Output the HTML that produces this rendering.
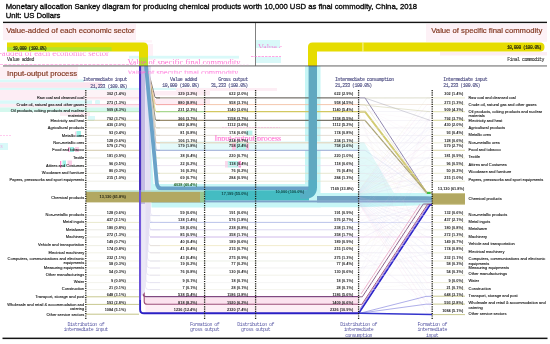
<!DOCTYPE html>
<html><head><meta charset="utf-8"><style>
html,body{margin:0;padding:0;background:#fff;}
#c{position:relative;width:550px;height:344px;overflow:hidden;background:#fff;}
svg{position:absolute;left:0;top:0;will-change:transform;}
</style></head><body><div id="c">
<svg width="550" height="344" viewBox="0 0 550 344">
<defs><clipPath id="g1"><rect x="0" y="52.4" width="140" height="3.7"/></clipPath><clipPath id="g2"><rect x="120" y="58.5" width="130" height="5.6"/></clipPath><clipPath id="g3"><rect x="120" y="70.6" width="118" height="3.2"/></clipPath><clipPath id="g4"><rect x="256" y="42.5" width="26" height="5.5"/></clipPath><clipPath id="g5"><rect x="256" y="55.6" width="26" height="1.8"/></clipPath><clipPath id="g6"><rect x="212" y="135.2" width="72" height="5.6"/></clipPath></defs>
<path d="M146,66 L153.5,184 L305,184 L305,66 L320.5,66 L320.5,207.6 L151.5,207.6 Z" fill="#c6f6f6"/>
<path d="M150.5,66 L158.6,182 Q159,184 161,184 L304.5,184 L304.5,66 Z" fill="#ffffff"/>
<path d="M320,193 L358.5,193 L432,193.1 L432,205 L358.5,207.2 L320,207.2 Z" fill="#c6f6f6"/>
<path d="M358.5,142 L364,142 L394,193 L358.5,193 Z" fill="#e2f9f9"/>
<rect x="3.00" y="23.80" width="133.00" height="16.40" fill="#fdf0f5"/>
<rect x="60.00" y="40.20" width="92.00" height="2.30" fill="#fef4f8"/>
<rect x="148.00" y="44.00" width="5.00" height="16.00" fill="#fef0f6"/>
<rect x="426.00" y="23.80" width="121.00" height="18.00" fill="#fdf1f6"/>
<rect x="440.00" y="52.00" width="107.00" height="3.50" fill="#fdedf4"/>
<rect x="0.00" y="66.50" width="78.00" height="12.50" fill="#fdf0f5"/>
<rect x="0.00" y="79.50" width="84.00" height="2.80" fill="#d9f9f9"/>
<rect x="0.00" y="82.30" width="102.00" height="5.60" fill="#fce4ee"/>
<rect x="0.00" y="87.90" width="210.00" height="2.00" fill="#d9f9f9"/>
<rect x="0.00" y="90.00" width="86.00" height="10.40" fill="#fdedf4"/>
<rect x="86.00" y="90.00" width="54.00" height="10.40" fill="#fdf3f7"/>
<rect x="0.00" y="100.40" width="92.00" height="3.50" fill="#d9f9f9"/>
<rect x="95.00" y="100.40" width="5.00" height="3.50" fill="#d9f9f9"/>
<rect x="0.00" y="103.90" width="140.00" height="3.50" fill="#fdedf4"/>
<rect x="0.00" y="107.40" width="140.00" height="4.60" fill="#d4f8ee"/>
<rect x="60.00" y="112.00" width="30.00" height="4.00" fill="#fdedf4"/>
<rect x="88.00" y="116.00" width="7.00" height="4.00" fill="#d9f9f9"/>
<rect x="150.00" y="91.00" width="60.00" height="4.50" fill="#fdedf4"/>
<rect x="150.00" y="99.00" width="60.00" height="5.00" fill="#fdedf4"/>
<rect x="176.00" y="88.00" width="101.00" height="2.90" fill="#fdedf4"/>
<rect x="129.00" y="55.80" width="110.00" height="2.80" fill="#d9f9f9"/>
<rect x="256.00" y="40.00" width="24.00" height="8.00" fill="#d9f9f9"/>
<rect x="256.00" y="57.00" width="25.00" height="6.00" fill="#d9f9f9"/>
<rect x="96.00" y="100.00" width="3.00" height="4.00" fill="#d9f9f9"/>
<rect x="88.00" y="116.00" width="6.00" height="5.00" fill="#d9f9f9"/>
<rect x="68.30" y="147.00" width="1.20" height="5.00" fill="#ff8ad0"/>
<rect x="70.00" y="147.00" width="4.00" height="5.00" fill="#9ff2e8"/>
<rect x="75.00" y="147.00" width="4.00" height="5.00" fill="#fbd0e8"/>
<rect x="60.00" y="161.00" width="1.20" height="7.00" fill="#ff8ad0"/>
<rect x="62.50" y="160.50" width="3.50" height="6.50" fill="#9ff2e8"/>
<rect x="67.50" y="160.50" width="4.50" height="5.50" fill="#fbd0e8"/>
<rect x="75.30" y="131.50" width="1.00" height="5.00" fill="#fbc0e0"/>
<rect x="76.50" y="131.00" width="4.50" height="6.00" fill="#9ff2e8"/>
<rect x="245.80" y="130.60" width="6.60" height="4.90" fill="#b8f4ec"/>
<rect x="160.00" y="141.30" width="198.00" height="9.00" fill="#e4fafa"/>
<rect x="232.00" y="143.00" width="4.00" height="7.00" fill="#fbc8e4"/>
<rect x="236.00" y="143.00" width="10.00" height="7.00" fill="#b8f4ec"/>
<rect x="246.00" y="143.00" width="3.00" height="7.00" fill="#fbc8e4"/>
<rect x="225.00" y="161.00" width="3.00" height="6.50" fill="#fbd8ec"/>
<rect x="227.80" y="161.00" width="10.70" height="6.50" fill="#b8f4ec"/>
<rect x="238.50" y="161.00" width="2.50" height="6.50" fill="#ff9ad8"/>
<line x1="86.00" y1="97.90" x2="139.00" y2="97.90" stroke="#f4c4cc" stroke-width="0.7"/>
<line x1="156.00" y1="97.90" x2="204.60" y2="97.90" stroke="#8a8070" stroke-width="1.0"/>
<line x1="204.60" y1="97.90" x2="358.50" y2="97.90" stroke="#555048" stroke-width="1.0"/>
<line x1="432.00" y1="97.90" x2="465.00" y2="97.90" stroke="#e0e0b4" stroke-width="0.7"/>
<line x1="86.00" y1="104.60" x2="139.00" y2="104.60" stroke="#f4b4c4" stroke-width="0.7"/>
<line x1="156.00" y1="104.60" x2="204.60" y2="104.60" stroke="#f08c8c" stroke-width="0.8"/>
<line x1="204.60" y1="104.60" x2="358.50" y2="104.60" stroke="#f0b898" stroke-width="0.8"/>
<line x1="432.00" y1="104.60" x2="465.00" y2="104.60" stroke="#e4e4c8" stroke-width="0.7"/>
<line x1="86.00" y1="111.70" x2="139.00" y2="111.70" stroke="#b0dca0" stroke-width="0.7"/>
<line x1="156.00" y1="111.70" x2="204.60" y2="111.70" stroke="#a8d890" stroke-width="1.3"/>
<line x1="204.60" y1="111.70" x2="358.50" y2="111.70" stroke="#d2c860" stroke-width="1.3"/>
<line x1="432.00" y1="111.70" x2="465.00" y2="111.70" stroke="#d0d08c" stroke-width="0.7"/>
<line x1="86.00" y1="120.30" x2="139.00" y2="120.30" stroke="#c8c090" stroke-width="0.7"/>
<line x1="156.00" y1="120.30" x2="204.60" y2="120.30" stroke="#807048" stroke-width="1.0"/>
<line x1="204.60" y1="120.30" x2="358.50" y2="120.30" stroke="#5a5648" stroke-width="1.0"/>
<line x1="432.00" y1="120.30" x2="465.00" y2="120.30" stroke="#c4c470" stroke-width="0.7"/>
<line x1="86.00" y1="127.90" x2="139.00" y2="127.90" stroke="#dcd8c0" stroke-width="0.7"/>
<line x1="156.00" y1="127.90" x2="358.50" y2="127.90" stroke="#cfc8b0" stroke-width="0.8"/>
<line x1="432.00" y1="127.90" x2="465.00" y2="127.90" stroke="#e2e2c4" stroke-width="0.7"/>
<line x1="86.00" y1="135.40" x2="139.00" y2="135.40" stroke="#e0dccc" stroke-width="0.7"/>
<line x1="156.00" y1="135.40" x2="358.50" y2="135.40" stroke="#d8d0c4" stroke-width="0.7"/>
<line x1="432.00" y1="135.40" x2="465.00" y2="135.40" stroke="#e2e2c4" stroke-width="0.7"/>
<line x1="86.00" y1="142.80" x2="139.00" y2="142.80" stroke="#f0ece4" stroke-width="0.7"/>
<line x1="156.00" y1="142.80" x2="358.50" y2="142.80" stroke="#e4c8a4" stroke-width="0.8"/>
<line x1="432.00" y1="142.80" x2="465.00" y2="142.80" stroke="#e2e2c4" stroke-width="0.7"/>
<line x1="86.00" y1="150.30" x2="139.00" y2="150.30" stroke="#c0b488" stroke-width="0.7"/>
<line x1="156.00" y1="150.30" x2="358.50" y2="150.30" stroke="#90a0d0" stroke-width="0.9"/>
<line x1="432.00" y1="150.30" x2="465.00" y2="150.30" stroke="#c8c484" stroke-width="0.7"/>
<line x1="86.00" y1="158.00" x2="139.00" y2="158.00" stroke="#e4e4d4" stroke-width="0.7"/>
<line x1="156.00" y1="158.00" x2="358.50" y2="158.00" stroke="#d8e4c8" stroke-width="0.7"/>
<line x1="432.00" y1="158.00" x2="465.00" y2="158.00" stroke="#e2e2c4" stroke-width="0.7"/>
<line x1="86.00" y1="165.60" x2="139.00" y2="165.60" stroke="#e8e4e8" stroke-width="0.7"/>
<line x1="156.00" y1="165.60" x2="358.50" y2="165.60" stroke="#e8dcec" stroke-width="0.7"/>
<line x1="432.00" y1="165.60" x2="465.00" y2="165.60" stroke="#e2e2c4" stroke-width="0.7"/>
<line x1="86.00" y1="173.30" x2="139.00" y2="173.30" stroke="#e8e8d8" stroke-width="0.7"/>
<line x1="156.00" y1="173.30" x2="358.50" y2="173.30" stroke="#dcdcbc" stroke-width="0.7"/>
<line x1="432.00" y1="173.30" x2="465.00" y2="173.30" stroke="#e2e2c4" stroke-width="0.7"/>
<line x1="86.00" y1="181.20" x2="139.00" y2="181.20" stroke="#e8e8dc" stroke-width="0.7"/>
<line x1="156.00" y1="181.20" x2="358.50" y2="181.20" stroke="#e2e2cc" stroke-width="0.7"/>
<line x1="432.00" y1="181.20" x2="465.00" y2="181.20" stroke="#e2e2c4" stroke-width="0.7"/>
<line x1="86.00" y1="215.60" x2="139.00" y2="215.60" stroke="#e4e4dc" stroke-width="0.7"/>
<line x1="150.00" y1="215.60" x2="358.50" y2="215.60" stroke="#d8dce8" stroke-width="0.7"/>
<line x1="432.00" y1="215.60" x2="465.00" y2="215.60" stroke="#e2e2c4" stroke-width="0.7"/>
<line x1="86.00" y1="222.40" x2="139.00" y2="222.40" stroke="#e0e0b8" stroke-width="0.7"/>
<line x1="150.00" y1="222.40" x2="358.50" y2="222.40" stroke="#a8b4e4" stroke-width="0.8"/>
<line x1="432.00" y1="222.40" x2="465.00" y2="222.40" stroke="#e2e2c4" stroke-width="0.7"/>
<line x1="86.00" y1="229.80" x2="139.00" y2="229.80" stroke="#e4e4d8" stroke-width="0.7"/>
<line x1="150.00" y1="229.80" x2="358.50" y2="229.80" stroke="#d0c8ec" stroke-width="0.7"/>
<line x1="432.00" y1="229.80" x2="465.00" y2="229.80" stroke="#e2e2c4" stroke-width="0.7"/>
<line x1="86.00" y1="237.00" x2="139.00" y2="237.00" stroke="#e4e4d8" stroke-width="0.7"/>
<line x1="150.00" y1="237.00" x2="358.50" y2="237.00" stroke="#c4a8e4" stroke-width="0.8"/>
<line x1="432.00" y1="237.00" x2="465.00" y2="237.00" stroke="#e2e2c4" stroke-width="0.7"/>
<line x1="86.00" y1="245.60" x2="139.00" y2="245.60" stroke="#e8e8d8" stroke-width="0.7"/>
<line x1="150.00" y1="245.60" x2="358.50" y2="245.60" stroke="#ece4b8" stroke-width="0.7"/>
<line x1="432.00" y1="245.60" x2="465.00" y2="245.60" stroke="#e2e2c4" stroke-width="0.7"/>
<line x1="86.00" y1="252.80" x2="139.00" y2="252.80" stroke="#ececdc" stroke-width="0.7"/>
<line x1="150.00" y1="252.80" x2="358.50" y2="252.80" stroke="#ecead4" stroke-width="0.7"/>
<line x1="432.00" y1="252.80" x2="465.00" y2="252.80" stroke="#e2e2c4" stroke-width="0.7"/>
<line x1="86.00" y1="261.00" x2="139.00" y2="261.00" stroke="#ececdc" stroke-width="0.7"/>
<line x1="150.00" y1="261.00" x2="358.50" y2="261.00" stroke="#e4eadc" stroke-width="0.7"/>
<line x1="432.00" y1="261.00" x2="465.00" y2="261.00" stroke="#e2e2c4" stroke-width="0.7"/>
<line x1="86.00" y1="268.00" x2="139.00" y2="268.00" stroke="#ececdc" stroke-width="0.7"/>
<line x1="150.00" y1="268.00" x2="358.50" y2="268.00" stroke="#eaeaea" stroke-width="0.6"/>
<line x1="432.00" y1="268.00" x2="465.00" y2="268.00" stroke="#e2e2c4" stroke-width="0.7"/>
<line x1="86.00" y1="275.20" x2="139.00" y2="275.20" stroke="#ececdc" stroke-width="0.7"/>
<line x1="150.00" y1="275.20" x2="358.50" y2="275.20" stroke="#eaeadc" stroke-width="0.6"/>
<line x1="432.00" y1="275.20" x2="465.00" y2="275.20" stroke="#e2e2c4" stroke-width="0.7"/>
<line x1="86.00" y1="282.60" x2="139.00" y2="282.60" stroke="#eeeee4" stroke-width="0.7"/>
<line x1="150.00" y1="282.60" x2="358.50" y2="282.60" stroke="#eeeeee" stroke-width="0.6"/>
<line x1="432.00" y1="282.60" x2="465.00" y2="282.60" stroke="#e2e2c4" stroke-width="0.7"/>
<line x1="86.00" y1="289.60" x2="139.00" y2="289.60" stroke="#eeeee4" stroke-width="0.7"/>
<line x1="150.00" y1="289.60" x2="358.50" y2="289.60" stroke="#eeeee2" stroke-width="0.6"/>
<line x1="432.00" y1="289.60" x2="465.00" y2="289.60" stroke="#e2e2c4" stroke-width="0.7"/>
<line x1="86.00" y1="296.80" x2="139.00" y2="296.80" stroke="#c8c890" stroke-width="1.0"/>
<line x1="432.00" y1="296.20" x2="465.00" y2="296.20" stroke="#c8c890" stroke-width="1.0"/>
<line x1="86.00" y1="304.40" x2="139.00" y2="304.40" stroke="#c8c890" stroke-width="1.0"/>
<line x1="432.00" y1="304.10" x2="465.00" y2="304.10" stroke="#c8c890" stroke-width="1.0"/>
<line x1="86.00" y1="314.20" x2="139.00" y2="314.20" stroke="#c4c488" stroke-width="1.0"/>
<line x1="432.00" y1="314.60" x2="465.00" y2="314.60" stroke="#c8c890" stroke-width="1.0"/>
<path d="M147.0,66 L155.0,97.3 Q156.0,97.9 157.5,97.9 L160,97.9" stroke="#555048" stroke-width="0.8" fill="none" opacity="0.9"/>
<path d="M147.1,66 L155.2,104.0 Q156.2,104.6 157.7,104.6 L160,104.6" stroke="#f0b898" stroke-width="0.8" fill="none" opacity="0.9"/>
<path d="M147.2,66 L155.3,111.1 Q156.3,111.7 157.8,111.7 L160,111.7" stroke="#d2c860" stroke-width="0.8" fill="none" opacity="0.9"/>
<path d="M147.4,66 L155.4,119.7 Q156.4,120.3 157.9,120.3 L160,120.3" stroke="#5a5648" stroke-width="0.8" fill="none" opacity="0.9"/>
<path d="M147.5,66 L155.6,127.3 Q156.6,127.9 158.1,127.9 L160,127.9" stroke="#cfc8b0" stroke-width="0.8" fill="none" opacity="0.9"/>
<path d="M147.6,66 L155.8,134.8 Q156.8,135.4 158.2,135.4 L160,135.4" stroke="#d8d0c4" stroke-width="0.7" fill="none" opacity="0.9"/>
<path d="M147.7,66 L155.9,142.2 Q156.9,142.8 158.4,142.8 L160,142.8" stroke="#e4c8a4" stroke-width="0.8" fill="none" opacity="0.9"/>
<path d="M147.8,66 L156.1,149.7 Q157.1,150.3 158.6,150.3 L160,150.3" stroke="#90a0d0" stroke-width="0.8" fill="none" opacity="0.9"/>
<path d="M148.0,66 L156.2,157.4 Q157.2,158.0 158.7,158.0 L160,158.0" stroke="#d8e4c8" stroke-width="0.7" fill="none" opacity="0.9"/>
<path d="M148.1,66 L156.3,165.0 Q157.3,165.6 158.8,165.6 L160,165.6" stroke="#e8dcec" stroke-width="0.7" fill="none" opacity="0.9"/>
<path d="M148.2,66 L156.5,172.7 Q157.5,173.3 159.0,173.3 L160,173.3" stroke="#dcdcbc" stroke-width="0.7" fill="none" opacity="0.9"/>
<path d="M148.3,66 L156.7,180.6 Q157.7,181.2 159.2,181.2 L160,181.2" stroke="#e2e2cc" stroke-width="0.7" fill="none" opacity="0.9"/>
<path d="M150.5,66 L150.5,212.6 Q150.5,215.6 153.5,215.6 L160,215.6" stroke="#d8d2ee" stroke-width="0.5" fill="none"/>
<path d="M150.0,66 L150.0,219.4 Q150.0,222.4 153.0,222.4 L160,222.4" stroke="#d8d2ee" stroke-width="0.5" fill="none"/>
<path d="M149.5,66 L149.5,226.8 Q149.5,229.8 152.5,229.8 L160,229.8" stroke="#d8d2ee" stroke-width="0.5" fill="none"/>
<path d="M149.0,66 L149.0,234.0 Q149.0,237.0 152.0,237.0 L160,237.0" stroke="#d8d2ee" stroke-width="0.5" fill="none"/>
<path d="M148.5,66 L148.5,242.6 Q148.5,245.6 151.5,245.6 L160,245.6" stroke="#d8d2ee" stroke-width="0.5" fill="none"/>
<path d="M148.0,66 L148.0,249.8 Q148.0,252.8 151.0,252.8 L160,252.8" stroke="#d8d2ee" stroke-width="0.5" fill="none"/>
<path d="M147.5,66 L147.5,258.0 Q147.5,261.0 150.5,261.0 L160,261.0" stroke="#d8d2ee" stroke-width="0.5" fill="none"/>
<path d="M147.0,66 L147.0,265.0 Q147.0,268.0 150.0,268.0 L160,268.0" stroke="#d8d2ee" stroke-width="0.5" fill="none"/>
<path d="M146.5,66 L146.5,272.2 Q146.5,275.2 149.5,275.2 L160,275.2" stroke="#d8d2ee" stroke-width="0.5" fill="none"/>
<path d="M146.0,66 L146.0,279.6 Q146.0,282.6 149.0,282.6 L160,282.6" stroke="#d8d2ee" stroke-width="0.5" fill="none"/>
<path d="M145.5,66 L145.5,286.6 Q145.5,289.6 148.5,289.6 L160,289.6" stroke="#d8d2ee" stroke-width="0.5" fill="none"/>
<rect x="144.50" y="297.40" width="214.00" height="6.60" fill="#fbe2ee"/>
<rect x="145.50" y="305.00" width="213.00" height="7.40" fill="#fdeef5"/>
<path d="M143,66 L143,293.8 Q143,296.6 146,296.6 L358.5,296.6" stroke="#804880" stroke-width="1.1" fill="none"/>
<path d="M144.2,66 L144.2,301.4 Q144.2,304.3 147.2,304.3 L358.5,304.3" stroke="#9a4a76" stroke-width="1.1" fill="none"/>
<rect x="141.00" y="66.00" width="4.00" height="138.00" fill="#c4bce4"/>
<rect x="141.00" y="204.00" width="4.00" height="84.00" fill="#ebe8f6"/>
<path d="M141,288 L145,288 L145,292 L141,296 Z" fill="#ebe8f6"/>
<path d="M146,66 L156.8,183 Q157.3,188.4 161.5,188.4 L309,188.4" stroke="#6aa2c8" stroke-width="3.8" fill="none"/>
<rect x="204.60" y="190.30" width="104.40" height="10.20" fill="#44bcc2"/>
<rect x="151.50" y="200.50" width="207.00" height="1.90" fill="#7ea2c8"/>
<rect x="308.6" y="66" width="8.4" height="122" fill="#60a8c0"/>
<path d="M312.8,180 L312.8,187 Q312.8,194.6 305.2,194.6 L300,194.6" stroke="#56aec4" stroke-width="8.4" fill="none"/>
<rect x="317.00" y="196.00" width="41.50" height="4.60" fill="#6fa2c2"/>
<rect x="317.00" y="200.50" width="41.50" height="1.90" fill="#7ea2c8"/>
<path d="M358.5,196 L426,196.2 L432,196.6 L432,200.6 L426,200.6 L358.5,200.6 Z" fill="#70a4c4"/>
<path d="M358.5,200.6 L432,200.6 L432,202.6 L358.5,202.4 Z" fill="#8ea8d0"/>
<rect x="86.00" y="191.60" width="114.60" height="10.80" fill="#b2a862"/>
<rect x="200.20" y="191.60" width="4.40" height="10.80" fill="#98c890"/>
<rect x="86.00" y="190.40" width="118.60" height="1.20" fill="#a8d8c8"/>
<rect x="432.00" y="193.10" width="33.00" height="11.50" fill="#b2a862"/>
<rect x="432.00" y="193.10" width="33.00" height="0.70" fill="#d6d09c"/>
<rect x="432.00" y="203.90" width="33.00" height="0.70" fill="#d6d09c"/>
<path d="M140.1,66 L140.1,309.4 Q140.1,313.2 143.9,313.2 L358.5,313.2" stroke="#2b1fc4" stroke-width="1.9" fill="none"/>
<line x1="140.10" y1="66.00" x2="140.10" y2="190.00" stroke="#4a30c0" stroke-width="1.9"/>
<line x1="140.10" y1="190.00" x2="140.10" y2="300.00" stroke="#7458dc" stroke-width="1.8"/>
<path d="M358.5,97.9 L365,97.9 L427,193.0 L432,193.0" stroke="#7a70a0" stroke-width="0.9" fill="none" opacity="0.95"/>
<path d="M358.5,191.0 L427,97.9 L432,97.9" stroke="#d8d0b8" stroke-width="0.35" fill="none" opacity="0.4"/>
<path d="M358.5,104.6 L365,104.6 L427,193.1 L432,193.1" stroke="#dcd4a0" stroke-width="0.6" fill="none" opacity="0.6"/>
<path d="M358.5,191.5 L427,104.6 L432,104.6" stroke="#e0b0e0" stroke-width="0.35" fill="none" opacity="0.4"/>
<path d="M358.5,111.7 L365,111.7 L427,193.1 L432,193.1" stroke="#d0c868" stroke-width="2.0" fill="none" opacity="0.95"/>
<path d="M358.5,191.9 L427,111.7 L432,111.7" stroke="#c0c0e8" stroke-width="0.35" fill="none" opacity="0.4"/>
<path d="M358.5,120.3 L365,120.3 L427,193.2 L432,193.2" stroke="#a8a070" stroke-width="1.3" fill="none" opacity="0.95"/>
<path d="M358.5,192.4 L427,120.3 L432,120.3" stroke="#c8c8ec" stroke-width="0.35" fill="none" opacity="0.4"/>
<path d="M358.5,127.9 L365,127.9 L427,193.2 L432,193.2" stroke="#cfc8b0" stroke-width="0.45" fill="none" opacity="0.35"/>
<path d="M358.5,192.8 L427,127.9 L432,127.9" stroke="#b8b0e0" stroke-width="0.35" fill="none" opacity="0.4"/>
<path d="M358.5,135.4 L365,135.4 L427,193.2 L432,193.2" stroke="#d8d0c4" stroke-width="0.45" fill="none" opacity="0.35"/>
<path d="M358.5,193.3 L427,135.4 L432,135.4" stroke="#b8b0e0" stroke-width="0.35" fill="none" opacity="0.4"/>
<path d="M358.5,142.8 L365,142.8 L427,193.3 L432,193.3" stroke="#e4c8a4" stroke-width="0.45" fill="none" opacity="0.35"/>
<path d="M358.5,193.8 L427,142.8 L432,142.8" stroke="#e8a8d8" stroke-width="0.35" fill="none" opacity="0.4"/>
<path d="M358.5,150.3 L365,150.3 L427,193.3 L432,193.3" stroke="#90a0d0" stroke-width="0.45" fill="none" opacity="0.4"/>
<path d="M358.5,194.2 L427,150.3 L432,150.3" stroke="#f0b8d8" stroke-width="0.35" fill="none" opacity="0.4"/>
<path d="M358.5,158.0 L365,158.0 L427,193.4 L432,193.4" stroke="#d8e4c8" stroke-width="0.45" fill="none" opacity="0.35"/>
<path d="M358.5,194.7 L427,158.0 L432,158.0" stroke="#b8b0e0" stroke-width="0.35" fill="none" opacity="0.4"/>
<path d="M358.5,165.6 L365,165.6 L427,193.4 L432,193.4" stroke="#e8dcec" stroke-width="0.45" fill="none" opacity="0.35"/>
<path d="M358.5,195.2 L427,165.6 L432,165.6" stroke="#d8d0b8" stroke-width="0.35" fill="none" opacity="0.4"/>
<path d="M358.5,173.3 L365,173.3 L427,193.5 L432,193.5" stroke="#dcdcbc" stroke-width="0.45" fill="none" opacity="0.35"/>
<path d="M358.5,195.6 L427,173.3 L432,173.3" stroke="#f0b8d8" stroke-width="0.35" fill="none" opacity="0.4"/>
<path d="M358.5,181.2 L365,181.2 L427,193.6 L432,193.6" stroke="#e2e2cc" stroke-width="0.45" fill="none" opacity="0.35"/>
<path d="M358.5,196.1 L427,181.2 L432,181.2" stroke="#b8b0e0" stroke-width="0.35" fill="none" opacity="0.4"/>
<path d="M358.5,215.6 L364,215.6 L427,204.3 L432,204.3" stroke="#d8dce8" stroke-width="0.45" fill="none" opacity="0.3"/>
<path d="M358.5,197.0 L427,215.6 L432,215.6" stroke="#f0b8d8" stroke-width="0.35" fill="none" opacity="0.4"/>
<path d="M358.5,222.4 L364,222.4 L427,204.4 L432,204.4" stroke="#a8b4e4" stroke-width="0.45" fill="none" opacity="0.3"/>
<path d="M358.5,197.5 L427,222.4 L432,222.4" stroke="#e0b0e0" stroke-width="0.35" fill="none" opacity="0.4"/>
<path d="M358.5,229.8 L364,229.8 L427,204.4 L432,204.4" stroke="#d0c8ec" stroke-width="0.45" fill="none" opacity="0.3"/>
<path d="M358.5,197.9 L427,229.8 L432,229.8" stroke="#b8b0e0" stroke-width="0.35" fill="none" opacity="0.4"/>
<path d="M358.5,237.0 L364,237.0 L427,204.5 L432,204.5" stroke="#c4a8e4" stroke-width="0.45" fill="none" opacity="0.3"/>
<path d="M358.5,198.4 L427,237.0 L432,237.0" stroke="#b8b0e0" stroke-width="0.35" fill="none" opacity="0.4"/>
<path d="M358.5,245.6 L364,245.6 L427,204.5 L432,204.5" stroke="#ece4b8" stroke-width="0.45" fill="none" opacity="0.3"/>
<path d="M358.5,198.8 L427,245.6 L432,245.6" stroke="#c0c0e8" stroke-width="0.35" fill="none" opacity="0.4"/>
<path d="M358.5,252.8 L364,252.8 L427,204.6 L432,204.6" stroke="#ecead4" stroke-width="0.45" fill="none" opacity="0.3"/>
<path d="M358.5,199.3 L427,252.8 L432,252.8" stroke="#c0c0e8" stroke-width="0.35" fill="none" opacity="0.4"/>
<path d="M358.5,261.0 L364,261.0 L427,204.6 L432,204.6" stroke="#e4eadc" stroke-width="0.45" fill="none" opacity="0.3"/>
<path d="M358.5,199.8 L427,261.0 L432,261.0" stroke="#b8b0e0" stroke-width="0.35" fill="none" opacity="0.4"/>
<path d="M358.5,268.0 L364,268.0 L427,204.7 L432,204.7" stroke="#eaeaea" stroke-width="0.45" fill="none" opacity="0.3"/>
<path d="M358.5,200.2 L427,268.0 L432,268.0" stroke="#e0b0e0" stroke-width="0.35" fill="none" opacity="0.4"/>
<path d="M358.5,275.2 L364,275.2 L427,204.7 L432,204.7" stroke="#eaeadc" stroke-width="0.45" fill="none" opacity="0.3"/>
<path d="M358.5,200.7 L427,275.2 L432,275.2" stroke="#b8b0e0" stroke-width="0.35" fill="none" opacity="0.4"/>
<path d="M358.5,282.6 L364,282.6 L427,204.8 L432,204.8" stroke="#eeeeee" stroke-width="0.45" fill="none" opacity="0.3"/>
<path d="M358.5,201.2 L427,282.6 L432,282.6" stroke="#f0b8d8" stroke-width="0.35" fill="none" opacity="0.4"/>
<path d="M358.5,289.6 L364,289.6 L427,204.8 L432,204.8" stroke="#eeeee2" stroke-width="0.45" fill="none" opacity="0.3"/>
<path d="M358.5,201.6 L427,289.6 L432,289.6" stroke="#c0c0e8" stroke-width="0.35" fill="none" opacity="0.4"/>
<path d="M358.5,296.8 L362.3,296.8 L423.3,204.0 L432,204.0" stroke="#8e6488" stroke-width="1.0" fill="none"/>
<path d="M358.5,202.1 L427,296.8 L432,296.8" stroke="#b8b0e0" stroke-width="0.35" fill="none" opacity="0.4"/>
<path d="M358.5,304.4 L361.8,304.4 L427.5,204.4 L432,204.4" stroke="#a45a7e" stroke-width="1.0" fill="none"/>
<path d="M358.5,202.5 L427,304.4 L432,304.4" stroke="#e8a8d8" stroke-width="0.35" fill="none" opacity="0.4"/>
<path d="M358.5,313.2 L358.8,313.2 L429.9,205.0 L432,205.0" stroke="#2a22c8" stroke-width="1.6" fill="none"/>
<path d="M358.5,203.0 L427,313.2 L432,313.2" stroke="#f0b8d8" stroke-width="0.35" fill="none" opacity="0.4"/>
<path d="M358.5,120.3 L432,150.3" stroke="#c8c8ec" stroke-width="0.3" fill="none" opacity="0.22"/>
<path d="M358.5,268.0 L432,252.8" stroke="#b8b0e0" stroke-width="0.3" fill="none" opacity="0.22"/>
<path d="M358.5,252.8 L432,252.8" stroke="#c0c0e8" stroke-width="0.3" fill="none" opacity="0.22"/>
<path d="M358.5,104.6 L432,150.3" stroke="#b8b0e0" stroke-width="0.3" fill="none" opacity="0.22"/>
<path d="M358.5,245.6 L432,127.9" stroke="#d8d0b8" stroke-width="0.3" fill="none" opacity="0.22"/>
<path d="M358.5,215.6 L432,127.9" stroke="#f0b8d8" stroke-width="0.3" fill="none" opacity="0.22"/>
<path d="M358.5,120.3 L432,252.8" stroke="#d8d0b8" stroke-width="0.3" fill="none" opacity="0.22"/>
<path d="M358.5,245.6 L432,313.2" stroke="#c8c8ec" stroke-width="0.3" fill="none" opacity="0.22"/>
<path d="M358.5,135.4 L432,120.3" stroke="#f0b8d8" stroke-width="0.3" fill="none" opacity="0.22"/>
<path d="M358.5,252.8 L432,268.0" stroke="#e0b0e0" stroke-width="0.3" fill="none" opacity="0.22"/>
<path d="M358.5,181.2 L432,120.3" stroke="#f0b8d8" stroke-width="0.3" fill="none" opacity="0.22"/>
<path d="M358.5,282.6 L432,111.7" stroke="#f0b8d8" stroke-width="0.3" fill="none" opacity="0.22"/>
<path d="M358.5,104.6 L432,261.0" stroke="#e0b0e0" stroke-width="0.3" fill="none" opacity="0.22"/>
<path d="M358.5,229.8 L432,275.2" stroke="#f0b8d8" stroke-width="0.3" fill="none" opacity="0.22"/>
<path d="M358.5,215.6 L432,296.8" stroke="#d8d0b8" stroke-width="0.3" fill="none" opacity="0.22"/>
<path d="M358.5,222.4 L432,252.8" stroke="#c0c0e8" stroke-width="0.3" fill="none" opacity="0.22"/>
<path d="M358.5,181.2 L432,165.6" stroke="#e0b0e0" stroke-width="0.3" fill="none" opacity="0.22"/>
<path d="M358.5,304.4 L432,135.4" stroke="#c8c8ec" stroke-width="0.3" fill="none" opacity="0.22"/>
<path d="M358.5,296.8 L432,150.3" stroke="#b8b0e0" stroke-width="0.3" fill="none" opacity="0.22"/>
<path d="M358.5,252.8 L432,165.6" stroke="#f0b8d8" stroke-width="0.3" fill="none" opacity="0.22"/>
<path d="M358.5,229.8 L432,173.3" stroke="#c8c8ec" stroke-width="0.3" fill="none" opacity="0.22"/>
<path d="M358.5,222.4 L432,165.6" stroke="#f0b8d8" stroke-width="0.3" fill="none" opacity="0.22"/>
<path d="M358.5,111.7 L432,120.3" stroke="#f0b8d8" stroke-width="0.3" fill="none" opacity="0.22"/>
<path d="M358.5,215.6 L432,135.4" stroke="#e8a8d8" stroke-width="0.3" fill="none" opacity="0.22"/>
<path d="M358.5,173.3 L432,127.9" stroke="#c0c0e8" stroke-width="0.3" fill="none" opacity="0.22"/>
<path d="M358.5,215.6 L432,104.6" stroke="#c8c8ec" stroke-width="0.3" fill="none" opacity="0.22"/>
<path d="M358.5,111.7 L432,296.8" stroke="#f0b8d8" stroke-width="0.3" fill="none" opacity="0.22"/>
<path d="M358.5,252.8 L432,304.4" stroke="#e8a8d8" stroke-width="0.3" fill="none" opacity="0.22"/>
<path d="M358.5,173.3 L432,173.3" stroke="#c8c8ec" stroke-width="0.3" fill="none" opacity="0.22"/>
<path d="M358.5,181.2 L432,261.0" stroke="#c0c0e8" stroke-width="0.3" fill="none" opacity="0.22"/>
<path d="M358.5,252.8 L432,304.4" stroke="#c0c0e8" stroke-width="0.3" fill="none" opacity="0.22"/>
<path d="M358.5,111.7 L432,313.2" stroke="#b8b0e0" stroke-width="0.3" fill="none" opacity="0.22"/>
<path d="M358.5,158.0 L432,229.8" stroke="#c8c8ec" stroke-width="0.3" fill="none" opacity="0.22"/>
<path d="M358.5,275.2 L432,111.7" stroke="#b8b0e0" stroke-width="0.3" fill="none" opacity="0.22"/>
<path d="M358.5,289.6 L432,282.6" stroke="#d8d0b8" stroke-width="0.3" fill="none" opacity="0.22"/>
<path d="M358.5,268.0 L432,252.8" stroke="#c8c8ec" stroke-width="0.3" fill="none" opacity="0.22"/>
<path d="M358.5,313.2 L432,222.4" stroke="#d8d0b8" stroke-width="0.3" fill="none" opacity="0.22"/>
<path d="M358.5,275.2 L432,181.2" stroke="#b8b0e0" stroke-width="0.3" fill="none" opacity="0.22"/>
<path d="M358.5,222.4 L432,181.2" stroke="#e0b0e0" stroke-width="0.3" fill="none" opacity="0.22"/>
<path d="M358.5,261.0 L432,120.3" stroke="#c0c0e8" stroke-width="0.3" fill="none" opacity="0.22"/>
<path d="M358.5,104.6 L432,142.8" stroke="#e8a8d8" stroke-width="0.3" fill="none" opacity="0.22"/>
<path d="M358.5,165.6 L432,127.9" stroke="#c8c8ec" stroke-width="0.3" fill="none" opacity="0.22"/>
<path d="M361.0,294.0 L420.0,204.2" stroke="#e070a0" stroke-width="0.6" fill="none" opacity="0.9"/>
<path d="M360.0,309.0 L428.9,204.2" stroke="#6a4ad0" stroke-width="0.7" fill="none" opacity="0.9"/>
<line x1="358.50" y1="97.90" x2="432.00" y2="97.90" stroke="#c8c8b0" stroke-width="0.5" opacity="0.8"/>
<line x1="358.50" y1="104.60" x2="432.00" y2="104.60" stroke="#e0c8b0" stroke-width="0.5" opacity="0.8"/>
<line x1="358.50" y1="111.70" x2="432.00" y2="111.70" stroke="#e4e0ec" stroke-width="0.5" opacity="0.8"/>
<line x1="358.50" y1="120.30" x2="432.00" y2="120.30" stroke="#e4e0ec" stroke-width="0.5" opacity="0.8"/>
<line x1="358.50" y1="127.90" x2="432.00" y2="127.90" stroke="#e4e0ec" stroke-width="0.5" opacity="0.8"/>
<line x1="358.50" y1="135.40" x2="432.00" y2="135.40" stroke="#e4e0ec" stroke-width="0.5" opacity="0.8"/>
<line x1="358.50" y1="142.80" x2="432.00" y2="142.80" stroke="#e4e0ec" stroke-width="0.5" opacity="0.8"/>
<line x1="358.50" y1="150.30" x2="432.00" y2="150.30" stroke="#e4e0ec" stroke-width="0.5" opacity="0.8"/>
<line x1="358.50" y1="158.00" x2="432.00" y2="158.00" stroke="#e4e0ec" stroke-width="0.5" opacity="0.8"/>
<line x1="358.50" y1="165.60" x2="432.00" y2="165.60" stroke="#e4e0ec" stroke-width="0.5" opacity="0.8"/>
<line x1="358.50" y1="173.30" x2="432.00" y2="173.30" stroke="#e4e0ec" stroke-width="0.5" opacity="0.8"/>
<line x1="358.50" y1="181.20" x2="432.00" y2="181.20" stroke="#e4e0ec" stroke-width="0.5" opacity="0.8"/>
<line x1="358.50" y1="215.60" x2="432.00" y2="215.60" stroke="#e4e0ec" stroke-width="0.5" opacity="0.8"/>
<line x1="358.50" y1="222.40" x2="432.00" y2="222.40" stroke="#a0a8e0" stroke-width="0.5" opacity="0.8"/>
<line x1="358.50" y1="229.80" x2="432.00" y2="229.80" stroke="#e4e0ec" stroke-width="0.5" opacity="0.8"/>
<line x1="358.50" y1="237.00" x2="432.00" y2="237.00" stroke="#d8a8e0" stroke-width="0.5" opacity="0.8"/>
<line x1="358.50" y1="245.60" x2="432.00" y2="245.60" stroke="#e4e0ec" stroke-width="0.5" opacity="0.8"/>
<line x1="358.50" y1="252.80" x2="432.00" y2="252.80" stroke="#e4e0ec" stroke-width="0.5" opacity="0.8"/>
<line x1="358.50" y1="261.00" x2="432.00" y2="261.00" stroke="#e4e0ec" stroke-width="0.5" opacity="0.8"/>
<line x1="358.50" y1="268.00" x2="432.00" y2="268.00" stroke="#e4e0ec" stroke-width="0.5" opacity="0.8"/>
<line x1="358.50" y1="275.20" x2="432.00" y2="275.20" stroke="#e4e0ec" stroke-width="0.5" opacity="0.8"/>
<line x1="358.50" y1="282.60" x2="432.00" y2="282.60" stroke="#e4e0ec" stroke-width="0.5" opacity="0.8"/>
<line x1="358.50" y1="289.60" x2="432.00" y2="289.60" stroke="#e4e0ec" stroke-width="0.5" opacity="0.8"/>
<path d="M365,98 L430,120.3" stroke="#8a8aa0" stroke-width="0.5" fill="none" opacity="0.7"/>
<path d="M358.5,104.6 L430,111.7" stroke="#c8c8a0" stroke-width="0.6" fill="none" opacity="0.8"/>
<path d="M365,98 L430,97.9" stroke="#c8c8b0" stroke-width="0.5" fill="none" opacity="0.6"/>
<path d="M360,313.2 L426,296.4 L432,296.2" stroke="#6a6ad6" stroke-width="0.6" fill="none" opacity="0.9"/>
<path d="M360,313.2 L426,304.2 L432,304.1" stroke="#6a6ad6" stroke-width="0.6" fill="none" opacity="0.9"/>
<path d="M358.5,313.2 L432,314.6" stroke="#3434cc" stroke-width="1.5" fill="none"/>
<rect x="427.00" y="191.80" width="3.50" height="2.20" fill="#40c040"/>
<path d="M7,42.5 L143.5,42.5 Q148,42.5 148,47 L148,66 L139,66 L139,51.5 L7,51.5 Z" fill="#e6dc00"/>
<rect x="7" y="47.2" width="104.6" height="3.8" fill="#b2e42a"/>
<rect x="139" y="57.5" width="9" height="8.5" fill="#b8e030"/>
<path d="M312.5,42.5 L540,42.5 Q544.5,42.5 544.5,47 Q544.5,51.5 540,51.5 L317,51.5 L317,66 L308,66 L308,47 Q308,42.5 312.5,42.5 Z" fill="#e6dc00"/>
<rect x="362.60" y="42.50" width="0.70" height="9.00" fill="#ffffff"/>
<rect x="3.00" y="21.70" width="544.00" height="1.40" fill="#141414"/>
<rect x="3.00" y="65.50" width="544.00" height="0.90" fill="#505050"/>
<rect x="255.10" y="23.00" width="0.80" height="43.00" fill="#606060"/>
<rect x="2.50" y="337.60" width="545.00" height="1.50" fill="#141414"/>
<line x1="85.80" y1="90.00" x2="85.80" y2="319.50" stroke="#1c1c14" stroke-width="1.3" stroke-dasharray="1.2,1.1"/>
<line x1="204.60" y1="90.00" x2="204.60" y2="319.50" stroke="#1c1c14" stroke-width="1.3" stroke-dasharray="1.2,1.1"/>
<line x1="255.60" y1="90.00" x2="255.60" y2="319.50" stroke="#1c1c14" stroke-width="1.3" stroke-dasharray="1.2,1.1"/>
<line x1="358.60" y1="90.00" x2="358.60" y2="319.50" stroke="#1c1c14" stroke-width="1.3" stroke-dasharray="1.2,1.1"/>
<line x1="432.20" y1="90.00" x2="432.20" y2="319.50" stroke="#1c1c14" stroke-width="1.3" stroke-dasharray="1.2,1.1"/>
<line x1="251.00" y1="56.40" x2="281.00" y2="56.40" stroke="#ff60d0" stroke-width="0.8" opacity="0.8" stroke-dasharray="2.5,1"/>
<line x1="222.00" y1="127.40" x2="280.00" y2="127.40" stroke="#ff80d8" stroke-width="0.6" opacity="0.6" stroke-dasharray="2,1"/>
<line x1="0.00" y1="64.50" x2="136.00" y2="64.50" stroke="#ff70d0" stroke-width="0.7" opacity="0.7" stroke-dasharray="3,1.2"/>
<line x1="0.00" y1="135.40" x2="12.00" y2="135.40" stroke="#ff70d0" stroke-width="0.6" opacity="0.7" stroke-dasharray="2,1"/>
<rect x="0.00" y="143.00" width="8.00" height="7.00" fill="#d9f9f9"/>
<line x1="152.00" y1="64.80" x2="250.00" y2="64.80" stroke="#ff90e0" stroke-width="0.5" opacity="0.5" stroke-dasharray="2,1.5"/>
<text x="-20.80" y="56.03" font-family="Liberation Serif" font-size="8.7" fill="#ff50c8" opacity="0.7" clip-path="url(#g1)">Value-added of each economic sector</text>
<text x="127.50" y="64.99" font-family="Liberation Serif" font-size="8.3" fill="#ff50c8" opacity="0.8" clip-path="url(#g2)">Value of specific final commodity</text>
<text x="127.00" y="74.85" font-family="Liberation Serif" font-size="8.2" fill="#ff70d8" opacity="0.75" stroke="#ff70d8" stroke-width="0.15" stroke-linejoin="round" clip-path="url(#g3)">Value of specific final commodity</text>
<text x="258.00" y="50.19" font-family="Liberation Serif" font-size="8.3" fill="#ff50c8" opacity="0.7" clip-path="url(#g4)">Value of</text>
<text x="214.50" y="140.52" font-family="Liberation Serif" font-size="8.1" fill="#ff50c8" opacity="0.75" stroke="#ff50c8" stroke-width="0.2" stroke-linejoin="round" clip-path="url(#g6)">Input-output process</text>
<text x="-1.00" y="148.48" font-family="Liberation Serif" font-size="5.5" fill="#ff70d0" opacity="0.6">ts</text>
<text x="5.70" y="8.57" font-family="Liberation Sans" font-size="7.7" fill="#080808" stroke="#080808" stroke-width="0.32" stroke-linejoin="round">Monetary allocation Sankey diagram for producing chemical products worth 10,000 USD as final commodity, China, 2018</text>
<text x="5.70" y="17.57" font-family="Liberation Sans" font-size="7.7" fill="#080808" stroke="#080808" stroke-width="0.32" stroke-linejoin="round">Unit: US Dollars</text>
<text x="6.20" y="32.77" font-family="Liberation Sans" font-size="7.7" fill="#80361f" stroke="#80361f" stroke-width="0.18" stroke-linejoin="round">Value-added of each economic sector</text>
<text x="431.30" y="33.07" font-family="Liberation Sans" font-size="7.7" fill="#80361f" stroke="#80361f" stroke-width="0.18" stroke-linejoin="round">Value of specific final commodity</text>
<text x="7.00" y="75.97" font-family="Liberation Sans" font-size="7.7" fill="#80361f" stroke="#80361f" stroke-width="0.18" stroke-linejoin="round">Input-output process</text>
<text x="12.70" y="49.82" font-family="Liberation Mono" font-size="4.5" fill="#2a2a10" letter-spacing="-0.45" stroke="#2a2a10" stroke-width="0.18" stroke-linejoin="round">10,000 (100.0%)</text>
<text x="7.00" y="61.16" font-family="Liberation Mono" font-size="4.9" fill="#3a3a3a" letter-spacing="-0.49" stroke="#3a3a3a" stroke-width="0.12" stroke-linejoin="round">Value added</text>
<text x="541.40" y="49.16" font-family="Liberation Mono" font-size="4.6" fill="#2a2a10" text-anchor="end" letter-spacing="-0.46" stroke="#2a2a10" stroke-width="0.18" stroke-linejoin="round">10,000 (100.0%)</text>
<text x="544.00" y="60.76" font-family="Liberation Mono" font-size="4.9" fill="#3a3a3a" text-anchor="end" letter-spacing="-0.49" stroke="#3a3a3a" stroke-width="0.12" stroke-linejoin="round">Final commodity</text>
<text x="127.00" y="81.46" font-family="Liberation Mono" font-size="4.9" fill="#505084" text-anchor="end" letter-spacing="-0.49" stroke="#505084" stroke-width="0.12" stroke-linejoin="round">Intermediate input</text>
<text x="127.00" y="87.56" font-family="Liberation Mono" font-size="4.9" fill="#505084" text-anchor="end" letter-spacing="-0.49" stroke="#505084" stroke-width="0.12" stroke-linejoin="round">21,233 (100.0%)</text>
<text x="197.00" y="81.26" font-family="Liberation Mono" font-size="4.9" fill="#505084" text-anchor="end" letter-spacing="-0.49" stroke="#505084" stroke-width="0.12" stroke-linejoin="round">Value added</text>
<text x="199.00" y="87.46" font-family="Liberation Mono" font-size="4.9" fill="#505084" text-anchor="end" letter-spacing="-0.49" stroke="#505084" stroke-width="0.12" stroke-linejoin="round">10,000 (100.0%)</text>
<text x="247.60" y="81.26" font-family="Liberation Mono" font-size="4.9" fill="#505084" text-anchor="end" letter-spacing="-0.49" stroke="#505084" stroke-width="0.12" stroke-linejoin="round">Gross output</text>
<text x="247.60" y="87.46" font-family="Liberation Mono" font-size="4.9" fill="#505084" text-anchor="end" letter-spacing="-0.49" stroke="#505084" stroke-width="0.12" stroke-linejoin="round">31,233 (100.0%)</text>
<text x="335.00" y="80.96" font-family="Liberation Mono" font-size="4.9" fill="#505084" letter-spacing="-0.49" stroke="#505084" stroke-width="0.12" stroke-linejoin="round">Intermediate consumption</text>
<text x="335.00" y="86.96" font-family="Liberation Mono" font-size="4.9" fill="#505084" letter-spacing="-0.49" stroke="#505084" stroke-width="0.12" stroke-linejoin="round">21,233 (100.0%)</text>
<text x="443.20" y="80.96" font-family="Liberation Mono" font-size="4.9" fill="#505084" letter-spacing="-0.49" stroke="#505084" stroke-width="0.12" stroke-linejoin="round">Intermediate input</text>
<text x="443.20" y="86.96" font-family="Liberation Mono" font-size="4.9" fill="#505084" letter-spacing="-0.49" stroke="#505084" stroke-width="0.12" stroke-linejoin="round">21,233 (100.0%)</text>
<text x="85.80" y="325.56" font-family="Liberation Mono" font-size="4.9" fill="#5858a4" text-anchor="middle" letter-spacing="-0.49">Distribution of</text>
<text x="85.80" y="331.16" font-family="Liberation Mono" font-size="4.9" fill="#5858a4" text-anchor="middle" letter-spacing="-0.49">intermediate input</text>
<text x="204.60" y="325.56" font-family="Liberation Mono" font-size="4.9" fill="#5858a4" text-anchor="middle" letter-spacing="-0.49">Formation of</text>
<text x="204.60" y="331.16" font-family="Liberation Mono" font-size="4.9" fill="#5858a4" text-anchor="middle" letter-spacing="-0.49">gross output</text>
<text x="255.60" y="325.56" font-family="Liberation Mono" font-size="4.9" fill="#5858a4" text-anchor="middle" letter-spacing="-0.49">Distribution of</text>
<text x="255.60" y="331.16" font-family="Liberation Mono" font-size="4.9" fill="#5858a4" text-anchor="middle" letter-spacing="-0.49">gross output</text>
<text x="358.60" y="325.56" font-family="Liberation Mono" font-size="4.9" fill="#5858a4" text-anchor="middle" letter-spacing="-0.49">Distribution of</text>
<text x="358.60" y="331.16" font-family="Liberation Mono" font-size="4.9" fill="#5858a4" text-anchor="middle" letter-spacing="-0.49">intermediate</text>
<text x="358.60" y="336.76" font-family="Liberation Mono" font-size="4.9" fill="#5858a4" text-anchor="middle" letter-spacing="-0.49">consumption</text>
<text x="432.20" y="325.56" font-family="Liberation Mono" font-size="4.9" fill="#5858a4" text-anchor="middle" letter-spacing="-0.49">Formation of</text>
<text x="432.20" y="331.16" font-family="Liberation Mono" font-size="4.9" fill="#5858a4" text-anchor="middle" letter-spacing="-0.49">intermediate</text>
<text x="432.20" y="336.76" font-family="Liberation Mono" font-size="4.9" fill="#5858a4" text-anchor="middle" letter-spacing="-0.49">input</text>
<g><text transform="translate(84.30,99.04) scale(0.95,1)" font-family="Liberation Sans" font-size="4.0" fill="#1a1a1a" text-anchor="end" stroke="#1a1a1a" stroke-width="0.11" stroke-linejoin="round">Raw coal and cleansed coal</text></g>
<g><text transform="translate(468.60,98.84) scale(0.95,1)" font-family="Liberation Sans" font-size="4.0" fill="#1a1a1a" stroke="#1a1a1a" stroke-width="0.11" stroke-linejoin="round">Raw coal and cleansed coal</text></g>
<g><text transform="translate(125.70,94.55) scale(0.9,1)" font-family="Liberation Sans" font-size="4.3" fill="#262626" text-anchor="end" font-weight="bold">302 (1.4%)</text></g>
<g><text transform="translate(197.00,94.55) scale(0.9,1)" font-family="Liberation Sans" font-size="4.3" fill="#262626" text-anchor="end" font-weight="bold">329 (3.2%)</text></g>
<g><text transform="translate(248.00,94.55) scale(0.9,1)" font-family="Liberation Sans" font-size="4.3" fill="#262626" text-anchor="end" font-weight="bold">622 (2.0%)</text></g>
<g><text transform="translate(353.20,94.55) scale(0.9,1)" font-family="Liberation Sans" font-size="4.3" fill="#262626" text-anchor="end" font-weight="bold">622 (2.9%)</text></g>
<g><text transform="translate(463.20,94.55) scale(0.9,1)" font-family="Liberation Sans" font-size="4.3" fill="#262626" text-anchor="end" font-weight="bold">302 (1.4%)</text></g>
<text x="84.30" y="106.04" font-family="Liberation Sans" font-size="4.0" fill="#1a1a1a" text-anchor="end" stroke="#1a1a1a" stroke-width="0.11" stroke-linejoin="round">Crude oil, natural gas and other gases</text>
<text x="468.60" y="106.14" font-family="Liberation Sans" font-size="4.0" fill="#1a1a1a" stroke="#1a1a1a" stroke-width="0.11" stroke-linejoin="round">Crude oil, natural gas and other gases</text>
<g><text transform="translate(125.70,103.75) scale(0.9,1)" font-family="Liberation Sans" font-size="4.3" fill="#262626" text-anchor="end" font-weight="bold">273 (1.3%)</text></g>
<g><text transform="translate(197.00,103.75) scale(0.9,1)" font-family="Liberation Sans" font-size="4.3" fill="#262626" text-anchor="end" font-weight="bold">880 (8.8%)</text></g>
<g><text transform="translate(248.00,103.75) scale(0.9,1)" font-family="Liberation Sans" font-size="4.3" fill="#262626" text-anchor="end" font-weight="bold">958 (3.1%)</text></g>
<g><text transform="translate(353.20,103.75) scale(0.9,1)" font-family="Liberation Sans" font-size="4.3" fill="#262626" text-anchor="end" font-weight="bold">958 (4.5%)</text></g>
<g><text transform="translate(463.20,103.75) scale(0.9,1)" font-family="Liberation Sans" font-size="4.3" fill="#262626" text-anchor="end" font-weight="bold">273 (1.3%)</text></g>
<text x="84.30" y="112.24" font-family="Liberation Sans" font-size="4.0" fill="#1a1a1a" text-anchor="end" stroke="#1a1a1a" stroke-width="0.11" stroke-linejoin="round">Oil products, coking products and nuclear</text>
<text x="468.60" y="112.54" font-family="Liberation Sans" font-size="4.0" fill="#1a1a1a" stroke="#1a1a1a" stroke-width="0.11" stroke-linejoin="round">Oil products, coking products and nuclear</text>
<text x="84.30" y="116.64" font-family="Liberation Sans" font-size="4.0" fill="#1a1a1a" text-anchor="end" stroke="#1a1a1a" stroke-width="0.11" stroke-linejoin="round">materials</text>
<text x="468.60" y="116.94" font-family="Liberation Sans" font-size="4.0" fill="#1a1a1a" stroke="#1a1a1a" stroke-width="0.11" stroke-linejoin="round">materials</text>
<g><text transform="translate(125.70,111.45) scale(0.9,1)" font-family="Liberation Sans" font-size="4.3" fill="#262626" text-anchor="end" font-weight="bold">909 (4.3%)</text></g>
<g><text transform="translate(197.00,111.45) scale(0.9,1)" font-family="Liberation Sans" font-size="4.3" fill="#262626" text-anchor="end" font-weight="bold">231 (2.3%)</text></g>
<g><text transform="translate(248.00,111.45) scale(0.9,1)" font-family="Liberation Sans" font-size="4.3" fill="#262626" text-anchor="end" font-weight="bold">1140 (3.6%)</text></g>
<g><text transform="translate(353.20,111.45) scale(0.9,1)" font-family="Liberation Sans" font-size="4.3" fill="#262626" text-anchor="end" font-weight="bold">1140 (5.4%)</text></g>
<g><text transform="translate(463.20,111.45) scale(0.9,1)" font-family="Liberation Sans" font-size="4.3" fill="#262626" text-anchor="end" font-weight="bold">909 (4.3%)</text></g>
<text x="84.30" y="122.04" font-family="Liberation Sans" font-size="4.0" fill="#1a1a1a" text-anchor="end" stroke="#1a1a1a" stroke-width="0.11" stroke-linejoin="round">Electricity and heat</text>
<text x="468.60" y="122.14" font-family="Liberation Sans" font-size="4.0" fill="#1a1a1a" stroke="#1a1a1a" stroke-width="0.11" stroke-linejoin="round">Electricity and heat</text>
<g><text transform="translate(125.70,119.75) scale(0.9,1)" font-family="Liberation Sans" font-size="4.3" fill="#262626" text-anchor="end" font-weight="bold">792 (3.7%)</text></g>
<g><text transform="translate(197.00,119.75) scale(0.9,1)" font-family="Liberation Sans" font-size="4.3" fill="#262626" text-anchor="end" font-weight="bold">366 (3.7%)</text></g>
<g><text transform="translate(248.00,119.75) scale(0.9,1)" font-family="Liberation Sans" font-size="4.3" fill="#262626" text-anchor="end" font-weight="bold">1158 (3.7%)</text></g>
<g><text transform="translate(353.20,119.75) scale(0.9,1)" font-family="Liberation Sans" font-size="4.3" fill="#262626" text-anchor="end" font-weight="bold">1158 (5.5%)</text></g>
<g><text transform="translate(463.20,119.75) scale(0.9,1)" font-family="Liberation Sans" font-size="4.3" fill="#262626" text-anchor="end" font-weight="bold">792 (3.7%)</text></g>
<text x="84.30" y="129.44" font-family="Liberation Sans" font-size="4.0" fill="#1a1a1a" text-anchor="end" stroke="#1a1a1a" stroke-width="0.11" stroke-linejoin="round">Agricultural products</text>
<text x="468.60" y="128.64" font-family="Liberation Sans" font-size="4.0" fill="#1a1a1a" stroke="#1a1a1a" stroke-width="0.11" stroke-linejoin="round">Agricultural products</text>
<g><text transform="translate(125.70,126.25) scale(0.9,1)" font-family="Liberation Sans" font-size="4.3" fill="#262626" text-anchor="end" font-weight="bold">430 (2.0%)</text></g>
<g><text transform="translate(197.00,126.25) scale(0.9,1)" font-family="Liberation Sans" font-size="4.3" fill="#262626" text-anchor="end" font-weight="bold">682 (6.8%)</text></g>
<g><text transform="translate(248.00,126.25) scale(0.9,1)" font-family="Liberation Sans" font-size="4.3" fill="#262626" text-anchor="end" font-weight="bold">1112 (3.6%)</text></g>
<g><text transform="translate(353.20,126.25) scale(0.9,1)" font-family="Liberation Sans" font-size="4.3" fill="#262626" text-anchor="end" font-weight="bold">1112 (5.2%)</text></g>
<g><text transform="translate(463.20,126.25) scale(0.9,1)" font-family="Liberation Sans" font-size="4.3" fill="#262626" text-anchor="end" font-weight="bold">430 (2.0%)</text></g>
<text x="84.30" y="136.84" font-family="Liberation Sans" font-size="4.0" fill="#1a1a1a" text-anchor="end" stroke="#1a1a1a" stroke-width="0.11" stroke-linejoin="round">Metallic ores</text>
<text x="468.60" y="135.64" font-family="Liberation Sans" font-size="4.0" fill="#1a1a1a" stroke="#1a1a1a" stroke-width="0.11" stroke-linejoin="round">Metallic ores</text>
<g><text transform="translate(125.70,133.75) scale(0.9,1)" font-family="Liberation Sans" font-size="4.3" fill="#262626" text-anchor="end" font-weight="bold">93 (0.4%)</text></g>
<g><text transform="translate(197.00,133.75) scale(0.9,1)" font-family="Liberation Sans" font-size="4.3" fill="#262626" text-anchor="end" font-weight="bold">81 (0.8%)</text></g>
<g><text transform="translate(248.00,133.75) scale(0.9,1)" font-family="Liberation Sans" font-size="4.3" fill="#262626" text-anchor="end" font-weight="bold">174 (0.6%)</text></g>
<g><text transform="translate(353.20,133.75) scale(0.9,1)" font-family="Liberation Sans" font-size="4.3" fill="#262626" text-anchor="end" font-weight="bold">174 (0.8%)</text></g>
<g><text transform="translate(463.20,133.75) scale(0.9,1)" font-family="Liberation Sans" font-size="4.3" fill="#262626" text-anchor="end" font-weight="bold">93 (0.4%)</text></g>
<text x="84.30" y="144.34" font-family="Liberation Sans" font-size="4.0" fill="#1a1a1a" text-anchor="end" stroke="#1a1a1a" stroke-width="0.11" stroke-linejoin="round">Non-metallic ores</text>
<text x="468.60" y="143.64" font-family="Liberation Sans" font-size="4.0" fill="#1a1a1a" stroke="#1a1a1a" stroke-width="0.11" stroke-linejoin="round">Non-metallic ores</text>
<g><text transform="translate(125.70,141.65) scale(0.9,1)" font-family="Liberation Sans" font-size="4.3" fill="#262626" text-anchor="end" font-weight="bold">128 (0.6%)</text></g>
<g><text transform="translate(197.00,141.65) scale(0.9,1)" font-family="Liberation Sans" font-size="4.3" fill="#262626" text-anchor="end" font-weight="bold">106 (1.1%)</text></g>
<g><text transform="translate(248.00,141.65) scale(0.9,1)" font-family="Liberation Sans" font-size="4.3" fill="#262626" text-anchor="end" font-weight="bold">234 (0.7%)</text></g>
<g><text transform="translate(353.20,141.65) scale(0.9,1)" font-family="Liberation Sans" font-size="4.3" fill="#262626" text-anchor="end" font-weight="bold">234 (1.1%)</text></g>
<g><text transform="translate(463.20,141.65) scale(0.9,1)" font-family="Liberation Sans" font-size="4.3" fill="#262626" text-anchor="end" font-weight="bold">128 (0.6%)</text></g>
<text x="84.30" y="151.14" font-family="Liberation Sans" font-size="4.0" fill="#1a1a1a" text-anchor="end" stroke="#1a1a1a" stroke-width="0.11" stroke-linejoin="round">Food and tobacco</text>
<text x="468.60" y="151.14" font-family="Liberation Sans" font-size="4.0" fill="#1a1a1a" stroke="#1a1a1a" stroke-width="0.11" stroke-linejoin="round">Food and tobacco</text>
<g><text transform="translate(125.70,146.75) scale(0.9,1)" font-family="Liberation Sans" font-size="4.3" fill="#262626" text-anchor="end" font-weight="bold">579 (2.7%)</text></g>
<g><text transform="translate(197.00,146.75) scale(0.9,1)" font-family="Liberation Sans" font-size="4.3" fill="#262626" text-anchor="end" font-weight="bold">179 (1.8%)</text></g>
<g><text transform="translate(248.00,146.75) scale(0.9,1)" font-family="Liberation Sans" font-size="4.3" fill="#262626" text-anchor="end" font-weight="bold">758 (2.4%)</text></g>
<g><text transform="translate(353.20,146.75) scale(0.9,1)" font-family="Liberation Sans" font-size="4.3" fill="#262626" text-anchor="end" font-weight="bold">758 (3.6%)</text></g>
<g><text transform="translate(463.20,146.75) scale(0.9,1)" font-family="Liberation Sans" font-size="4.3" fill="#262626" text-anchor="end" font-weight="bold">579 (2.7%)</text></g>
<text x="84.30" y="159.04" font-family="Liberation Sans" font-size="4.0" fill="#1a1a1a" text-anchor="end" stroke="#1a1a1a" stroke-width="0.11" stroke-linejoin="round">Textile</text>
<text x="468.60" y="158.44" font-family="Liberation Sans" font-size="4.0" fill="#1a1a1a" stroke="#1a1a1a" stroke-width="0.11" stroke-linejoin="round">Textile</text>
<g><text transform="translate(125.70,156.85) scale(0.9,1)" font-family="Liberation Sans" font-size="4.3" fill="#262626" text-anchor="end" font-weight="bold">181 (0.9%)</text></g>
<g><text transform="translate(197.00,156.85) scale(0.9,1)" font-family="Liberation Sans" font-size="4.3" fill="#262626" text-anchor="end" font-weight="bold">38 (0.4%)</text></g>
<g><text transform="translate(248.00,156.85) scale(0.9,1)" font-family="Liberation Sans" font-size="4.3" fill="#262626" text-anchor="end" font-weight="bold">220 (0.7%)</text></g>
<g><text transform="translate(353.20,156.85) scale(0.9,1)" font-family="Liberation Sans" font-size="4.3" fill="#262626" text-anchor="end" font-weight="bold">220 (1.0%)</text></g>
<g><text transform="translate(463.20,156.85) scale(0.9,1)" font-family="Liberation Sans" font-size="4.3" fill="#262626" text-anchor="end" font-weight="bold">181 (0.9%)</text></g>
<text x="84.30" y="166.84" font-family="Liberation Sans" font-size="4.0" fill="#1a1a1a" text-anchor="end" stroke="#1a1a1a" stroke-width="0.11" stroke-linejoin="round">Attires and Costumes</text>
<text x="468.60" y="165.94" font-family="Liberation Sans" font-size="4.0" fill="#1a1a1a" stroke="#1a1a1a" stroke-width="0.11" stroke-linejoin="round">Attires and Costumes</text>
<g><text transform="translate(125.70,164.55) scale(0.9,1)" font-family="Liberation Sans" font-size="4.3" fill="#262626" text-anchor="end" font-weight="bold">96 (0.5%)</text></g>
<g><text transform="translate(197.00,164.55) scale(0.9,1)" font-family="Liberation Sans" font-size="4.3" fill="#262626" text-anchor="end" font-weight="bold">22 (0.2%)</text></g>
<g><text transform="translate(248.00,164.55) scale(0.9,1)" font-family="Liberation Sans" font-size="4.3" fill="#262626" text-anchor="end" font-weight="bold">118 (0.4%)</text></g>
<g><text transform="translate(353.20,164.55) scale(0.9,1)" font-family="Liberation Sans" font-size="4.3" fill="#262626" text-anchor="end" font-weight="bold">118 (0.6%)</text></g>
<g><text transform="translate(463.20,164.55) scale(0.9,1)" font-family="Liberation Sans" font-size="4.3" fill="#262626" text-anchor="end" font-weight="bold">96 (0.5%)</text></g>
<text x="84.30" y="174.34" font-family="Liberation Sans" font-size="4.0" fill="#1a1a1a" text-anchor="end" stroke="#1a1a1a" stroke-width="0.11" stroke-linejoin="round">Woodware and furniture</text>
<text x="468.60" y="173.14" font-family="Liberation Sans" font-size="4.0" fill="#1a1a1a" stroke="#1a1a1a" stroke-width="0.11" stroke-linejoin="round">Woodware and furniture</text>
<g><text transform="translate(125.70,171.95) scale(0.9,1)" font-family="Liberation Sans" font-size="4.3" fill="#262626" text-anchor="end" font-weight="bold">80 (0.3%)</text></g>
<g><text transform="translate(197.00,171.95) scale(0.9,1)" font-family="Liberation Sans" font-size="4.3" fill="#262626" text-anchor="end" font-weight="bold">16 (0.2%)</text></g>
<g><text transform="translate(248.00,171.95) scale(0.9,1)" font-family="Liberation Sans" font-size="4.3" fill="#262626" text-anchor="end" font-weight="bold">76 (0.2%)</text></g>
<g><text transform="translate(353.20,171.95) scale(0.9,1)" font-family="Liberation Sans" font-size="4.3" fill="#262626" text-anchor="end" font-weight="bold">76 (0.4%)</text></g>
<g><text transform="translate(463.20,171.95) scale(0.9,1)" font-family="Liberation Sans" font-size="4.3" fill="#262626" text-anchor="end" font-weight="bold">50 (0.2%)</text></g>
<text x="84.30" y="181.34" font-family="Liberation Sans" font-size="4.0" fill="#1a1a1a" text-anchor="end" stroke="#1a1a1a" stroke-width="0.11" stroke-linejoin="round">Papers, pressworks and sport equipments</text>
<text x="468.60" y="180.94" font-family="Liberation Sans" font-size="4.0" fill="#1a1a1a" stroke="#1a1a1a" stroke-width="0.11" stroke-linejoin="round">Papers, pressworks and sport equipments</text>
<g><text transform="translate(125.70,179.25) scale(0.9,1)" font-family="Liberation Sans" font-size="4.3" fill="#262626" text-anchor="end" font-weight="bold">215 (1.0%)</text></g>
<g><text transform="translate(197.00,179.25) scale(0.9,1)" font-family="Liberation Sans" font-size="4.3" fill="#262626" text-anchor="end" font-weight="bold">69 (0.7%)</text></g>
<g><text transform="translate(248.00,179.25) scale(0.9,1)" font-family="Liberation Sans" font-size="4.3" fill="#262626" text-anchor="end" font-weight="bold">284 (0.9%)</text></g>
<g><text transform="translate(353.20,179.25) scale(0.9,1)" font-family="Liberation Sans" font-size="4.3" fill="#262626" text-anchor="end" font-weight="bold">284 (1.3%)</text></g>
<g><text transform="translate(463.20,179.25) scale(0.9,1)" font-family="Liberation Sans" font-size="4.3" fill="#262626" text-anchor="end" font-weight="bold">215 (1.0%)</text></g>
<text x="84.30" y="198.84" font-family="Liberation Sans" font-size="4.0" fill="#1a1a1a" text-anchor="end" stroke="#1a1a1a" stroke-width="0.11" stroke-linejoin="round">Chemical products</text>
<text x="468.60" y="199.64" font-family="Liberation Sans" font-size="4.0" fill="#1a1a1a" stroke="#1a1a1a" stroke-width="0.11" stroke-linejoin="round">Chemical products</text>
<g><text transform="translate(125.90,198.45) scale(0.9,1)" font-family="Liberation Sans" font-size="4.3" fill="#1e1e10" text-anchor="end" font-weight="bold">13,130 (61.8%)</text></g>
<g><text transform="translate(197.00,186.15) scale(0.9,1)" font-family="Liberation Sans" font-size="4.3" fill="#1c5a1c" text-anchor="end" font-weight="bold">4038 (40.4%)</text></g>
<g><text transform="translate(248.00,194.55) scale(0.9,1)" font-family="Liberation Sans" font-size="4.3" fill="#0e4646" text-anchor="end" font-weight="bold">17,199 (55.0%)</text></g>
<g><text transform="translate(304.00,193.15) scale(0.9,1)" font-family="Liberation Sans" font-size="4.3" fill="#0e4646" text-anchor="end" font-weight="bold">10,000 (100.0%)</text></g>
<g><text transform="translate(353.60,189.95) scale(0.9,1)" font-family="Liberation Sans" font-size="4.3" fill="#262626" text-anchor="end" font-weight="bold">7169 (33.8%)</text></g>
<g><text transform="translate(464.20,190.05) scale(0.9,1)" font-family="Liberation Sans" font-size="4.3" fill="#262626" text-anchor="end" font-weight="bold">13,130 (61.8%)</text></g>
<text x="84.30" y="216.44" font-family="Liberation Sans" font-size="4.0" fill="#1a1a1a" text-anchor="end" stroke="#1a1a1a" stroke-width="0.11" stroke-linejoin="round">Non-metallic products</text>
<text x="468.60" y="215.64" font-family="Liberation Sans" font-size="4.0" fill="#1a1a1a" stroke="#1a1a1a" stroke-width="0.11" stroke-linejoin="round">Non-metallic products</text>
<g><text transform="translate(125.70,213.85) scale(0.9,1)" font-family="Liberation Sans" font-size="4.3" fill="#262626" text-anchor="end" font-weight="bold">128 (0.6%)</text></g>
<g><text transform="translate(197.00,213.85) scale(0.9,1)" font-family="Liberation Sans" font-size="4.3" fill="#262626" text-anchor="end" font-weight="bold">59 (0.6%)</text></g>
<g><text transform="translate(248.00,213.85) scale(0.9,1)" font-family="Liberation Sans" font-size="4.3" fill="#262626" text-anchor="end" font-weight="bold">191 (0.6%)</text></g>
<g><text transform="translate(353.20,213.85) scale(0.9,1)" font-family="Liberation Sans" font-size="4.3" fill="#262626" text-anchor="end" font-weight="bold">191 (0.9%)</text></g>
<g><text transform="translate(463.20,213.85) scale(0.9,1)" font-family="Liberation Sans" font-size="4.3" fill="#262626" text-anchor="end" font-weight="bold">132 (0.6%)</text></g>
<text x="84.30" y="223.44" font-family="Liberation Sans" font-size="4.0" fill="#1a1a1a" text-anchor="end" stroke="#1a1a1a" stroke-width="0.11" stroke-linejoin="round">Metal ingots</text>
<text x="468.60" y="223.04" font-family="Liberation Sans" font-size="4.0" fill="#1a1a1a" stroke="#1a1a1a" stroke-width="0.11" stroke-linejoin="round">Metal ingots</text>
<g><text transform="translate(125.70,221.25) scale(0.9,1)" font-family="Liberation Sans" font-size="4.3" fill="#262626" text-anchor="end" font-weight="bold">437 (2.1%)</text></g>
<g><text transform="translate(197.00,221.25) scale(0.9,1)" font-family="Liberation Sans" font-size="4.3" fill="#262626" text-anchor="end" font-weight="bold">138 (1.4%)</text></g>
<g><text transform="translate(248.00,221.25) scale(0.9,1)" font-family="Liberation Sans" font-size="4.3" fill="#262626" text-anchor="end" font-weight="bold">576 (1.8%)</text></g>
<g><text transform="translate(353.20,221.25) scale(0.9,1)" font-family="Liberation Sans" font-size="4.3" fill="#262626" text-anchor="end" font-weight="bold">576 (2.7%)</text></g>
<g><text transform="translate(463.20,221.25) scale(0.9,1)" font-family="Liberation Sans" font-size="4.3" fill="#262626" text-anchor="end" font-weight="bold">437 (2.1%)</text></g>
<text x="84.30" y="230.94" font-family="Liberation Sans" font-size="4.0" fill="#1a1a1a" text-anchor="end" stroke="#1a1a1a" stroke-width="0.11" stroke-linejoin="round">Metalware</text>
<text x="468.60" y="230.44" font-family="Liberation Sans" font-size="4.0" fill="#1a1a1a" stroke="#1a1a1a" stroke-width="0.11" stroke-linejoin="round">Metalware</text>
<g><text transform="translate(125.70,228.95) scale(0.9,1)" font-family="Liberation Sans" font-size="4.3" fill="#262626" text-anchor="end" font-weight="bold">180 (0.8%)</text></g>
<g><text transform="translate(197.00,228.95) scale(0.9,1)" font-family="Liberation Sans" font-size="4.3" fill="#262626" text-anchor="end" font-weight="bold">58 (0.6%)</text></g>
<g><text transform="translate(248.00,228.95) scale(0.9,1)" font-family="Liberation Sans" font-size="4.3" fill="#262626" text-anchor="end" font-weight="bold">238 (0.8%)</text></g>
<g><text transform="translate(353.20,228.95) scale(0.9,1)" font-family="Liberation Sans" font-size="4.3" fill="#262626" text-anchor="end" font-weight="bold">238 (1.1%)</text></g>
<g><text transform="translate(463.20,228.95) scale(0.9,1)" font-family="Liberation Sans" font-size="4.3" fill="#262626" text-anchor="end" font-weight="bold">180 (0.8%)</text></g>
<text x="84.30" y="238.44" font-family="Liberation Sans" font-size="4.0" fill="#1a1a1a" text-anchor="end" stroke="#1a1a1a" stroke-width="0.11" stroke-linejoin="round">Machinery</text>
<text x="468.60" y="237.94" font-family="Liberation Sans" font-size="4.0" fill="#1a1a1a" stroke="#1a1a1a" stroke-width="0.11" stroke-linejoin="round">Machinery</text>
<g><text transform="translate(125.70,235.55) scale(0.9,1)" font-family="Liberation Sans" font-size="4.3" fill="#262626" text-anchor="end" font-weight="bold">272 (1.3%)</text></g>
<g><text transform="translate(197.00,235.55) scale(0.9,1)" font-family="Liberation Sans" font-size="4.3" fill="#262626" text-anchor="end" font-weight="bold">85 (0.9%)</text></g>
<g><text transform="translate(248.00,235.55) scale(0.9,1)" font-family="Liberation Sans" font-size="4.3" fill="#262626" text-anchor="end" font-weight="bold">358 (1.1%)</text></g>
<g><text transform="translate(353.20,235.55) scale(0.9,1)" font-family="Liberation Sans" font-size="4.3" fill="#262626" text-anchor="end" font-weight="bold">358 (1.7%)</text></g>
<g><text transform="translate(463.20,235.55) scale(0.9,1)" font-family="Liberation Sans" font-size="4.3" fill="#262626" text-anchor="end" font-weight="bold">272 (1.3%)</text></g>
<text x="84.30" y="246.14" font-family="Liberation Sans" font-size="4.0" fill="#1a1a1a" text-anchor="end" stroke="#1a1a1a" stroke-width="0.11" stroke-linejoin="round">Vehicle and transportation</text>
<text x="468.60" y="245.44" font-family="Liberation Sans" font-size="4.0" fill="#1a1a1a" stroke="#1a1a1a" stroke-width="0.11" stroke-linejoin="round">Vehicle and transportation</text>
<g><text transform="translate(125.70,242.85) scale(0.9,1)" font-family="Liberation Sans" font-size="4.3" fill="#262626" text-anchor="end" font-weight="bold">149 (0.7%)</text></g>
<g><text transform="translate(197.00,242.85) scale(0.9,1)" font-family="Liberation Sans" font-size="4.3" fill="#262626" text-anchor="end" font-weight="bold">40 (0.4%)</text></g>
<g><text transform="translate(248.00,242.85) scale(0.9,1)" font-family="Liberation Sans" font-size="4.3" fill="#262626" text-anchor="end" font-weight="bold">189 (0.6%)</text></g>
<g><text transform="translate(353.20,242.85) scale(0.9,1)" font-family="Liberation Sans" font-size="4.3" fill="#262626" text-anchor="end" font-weight="bold">189 (0.9%)</text></g>
<g><text transform="translate(463.20,242.85) scale(0.9,1)" font-family="Liberation Sans" font-size="4.3" fill="#262626" text-anchor="end" font-weight="bold">149 (0.7%)</text></g>
<text x="84.30" y="253.74" font-family="Liberation Sans" font-size="4.0" fill="#1a1a1a" text-anchor="end" stroke="#1a1a1a" stroke-width="0.11" stroke-linejoin="round">Electrical machinery</text>
<text x="468.60" y="253.24" font-family="Liberation Sans" font-size="4.0" fill="#1a1a1a" stroke="#1a1a1a" stroke-width="0.11" stroke-linejoin="round">Electrical machinery</text>
<g><text transform="translate(125.70,250.15) scale(0.9,1)" font-family="Liberation Sans" font-size="4.3" fill="#262626" text-anchor="end" font-weight="bold">174 (0.8%)</text></g>
<g><text transform="translate(197.00,250.15) scale(0.9,1)" font-family="Liberation Sans" font-size="4.3" fill="#262626" text-anchor="end" font-weight="bold">41 (0.4%)</text></g>
<g><text transform="translate(248.00,250.15) scale(0.9,1)" font-family="Liberation Sans" font-size="4.3" fill="#262626" text-anchor="end" font-weight="bold">215 (0.7%)</text></g>
<g><text transform="translate(353.20,250.15) scale(0.9,1)" font-family="Liberation Sans" font-size="4.3" fill="#262626" text-anchor="end" font-weight="bold">215 (1.0%)</text></g>
<g><text transform="translate(463.20,250.15) scale(0.9,1)" font-family="Liberation Sans" font-size="4.3" fill="#262626" text-anchor="end" font-weight="bold">174 (0.8%)</text></g>
<text x="84.30" y="260.04" font-family="Liberation Sans" font-size="4.0" fill="#1a1a1a" text-anchor="end" stroke="#1a1a1a" stroke-width="0.11" stroke-linejoin="round">Computers, communications and electronic</text>
<text x="468.60" y="260.24" font-family="Liberation Sans" font-size="4.0" fill="#1a1a1a" stroke="#1a1a1a" stroke-width="0.11" stroke-linejoin="round">Computers, communications and electronic</text>
<text x="84.30" y="264.44" font-family="Liberation Sans" font-size="4.0" fill="#1a1a1a" text-anchor="end" stroke="#1a1a1a" stroke-width="0.11" stroke-linejoin="round">equipments</text>
<text x="468.60" y="264.64" font-family="Liberation Sans" font-size="4.0" fill="#1a1a1a" stroke="#1a1a1a" stroke-width="0.11" stroke-linejoin="round">equipments</text>
<g><text transform="translate(125.70,259.15) scale(0.9,1)" font-family="Liberation Sans" font-size="4.3" fill="#262626" text-anchor="end" font-weight="bold">232 (1.1%)</text></g>
<g><text transform="translate(197.00,259.15) scale(0.9,1)" font-family="Liberation Sans" font-size="4.3" fill="#262626" text-anchor="end" font-weight="bold">43 (0.4%)</text></g>
<g><text transform="translate(248.00,259.15) scale(0.9,1)" font-family="Liberation Sans" font-size="4.3" fill="#262626" text-anchor="end" font-weight="bold">275 (0.9%)</text></g>
<g><text transform="translate(353.20,259.15) scale(0.9,1)" font-family="Liberation Sans" font-size="4.3" fill="#262626" text-anchor="end" font-weight="bold">275 (1.3%)</text></g>
<g><text transform="translate(463.20,259.15) scale(0.9,1)" font-family="Liberation Sans" font-size="4.3" fill="#262626" text-anchor="end" font-weight="bold">232 (1.1%)</text></g>
<text x="84.30" y="268.64" font-family="Liberation Sans" font-size="4.0" fill="#1a1a1a" text-anchor="end" stroke="#1a1a1a" stroke-width="0.11" stroke-linejoin="round">Measuring equipments</text>
<text x="468.60" y="268.64" font-family="Liberation Sans" font-size="4.0" fill="#1a1a1a" stroke="#1a1a1a" stroke-width="0.11" stroke-linejoin="round">Measuring equipments</text>
<g><text transform="translate(125.70,265.15) scale(0.9,1)" font-family="Liberation Sans" font-size="4.3" fill="#262626" text-anchor="end" font-weight="bold">58 (0.3%)</text></g>
<g><text transform="translate(197.00,265.15) scale(0.9,1)" font-family="Liberation Sans" font-size="4.3" fill="#262626" text-anchor="end" font-weight="bold">19 (0.2%)</text></g>
<g><text transform="translate(248.00,265.15) scale(0.9,1)" font-family="Liberation Sans" font-size="4.3" fill="#262626" text-anchor="end" font-weight="bold">77 (0.2%)</text></g>
<g><text transform="translate(353.20,265.15) scale(0.9,1)" font-family="Liberation Sans" font-size="4.3" fill="#262626" text-anchor="end" font-weight="bold">77 (0.4%)</text></g>
<g><text transform="translate(463.20,265.15) scale(0.9,1)" font-family="Liberation Sans" font-size="4.3" fill="#262626" text-anchor="end" font-weight="bold">58 (0.3%)</text></g>
<text x="84.30" y="275.84" font-family="Liberation Sans" font-size="4.0" fill="#1a1a1a" text-anchor="end" stroke="#1a1a1a" stroke-width="0.11" stroke-linejoin="round">Other manufacturings</text>
<text x="468.60" y="275.34" font-family="Liberation Sans" font-size="4.0" fill="#1a1a1a" stroke="#1a1a1a" stroke-width="0.11" stroke-linejoin="round">Other manufacturings</text>
<g><text transform="translate(125.70,272.75) scale(0.9,1)" font-family="Liberation Sans" font-size="4.3" fill="#262626" text-anchor="end" font-weight="bold">54 (0.3%)</text></g>
<g><text transform="translate(197.00,272.75) scale(0.9,1)" font-family="Liberation Sans" font-size="4.3" fill="#262626" text-anchor="end" font-weight="bold">76 (0.8%)</text></g>
<g><text transform="translate(248.00,272.75) scale(0.9,1)" font-family="Liberation Sans" font-size="4.3" fill="#262626" text-anchor="end" font-weight="bold">130 (0.4%)</text></g>
<g><text transform="translate(353.20,272.75) scale(0.9,1)" font-family="Liberation Sans" font-size="4.3" fill="#262626" text-anchor="end" font-weight="bold">130 (0.6%)</text></g>
<g><text transform="translate(463.20,272.75) scale(0.9,1)" font-family="Liberation Sans" font-size="4.3" fill="#262626" text-anchor="end" font-weight="bold">54 (0.3%)</text></g>
<text x="84.30" y="283.44" font-family="Liberation Sans" font-size="4.0" fill="#1a1a1a" text-anchor="end" stroke="#1a1a1a" stroke-width="0.11" stroke-linejoin="round">Water</text>
<text x="468.60" y="282.44" font-family="Liberation Sans" font-size="4.0" fill="#1a1a1a" stroke="#1a1a1a" stroke-width="0.11" stroke-linejoin="round">Water</text>
<g><text transform="translate(125.70,281.55) scale(0.9,1)" font-family="Liberation Sans" font-size="4.3" fill="#262626" text-anchor="end" font-weight="bold">9 (0.0%)</text></g>
<g><text transform="translate(197.00,281.55) scale(0.9,1)" font-family="Liberation Sans" font-size="4.3" fill="#262626" text-anchor="end" font-weight="bold">9 (0.1%)</text></g>
<g><text transform="translate(248.00,281.55) scale(0.9,1)" font-family="Liberation Sans" font-size="4.3" fill="#262626" text-anchor="end" font-weight="bold">18 (0.1%)</text></g>
<g><text transform="translate(353.20,281.55) scale(0.9,1)" font-family="Liberation Sans" font-size="4.3" fill="#262626" text-anchor="end" font-weight="bold">18 (0.1%)</text></g>
<g><text transform="translate(463.20,281.55) scale(0.9,1)" font-family="Liberation Sans" font-size="4.3" fill="#262626" text-anchor="end" font-weight="bold">9 (0.0%)</text></g>
<text x="84.30" y="290.14" font-family="Liberation Sans" font-size="4.0" fill="#1a1a1a" text-anchor="end" stroke="#1a1a1a" stroke-width="0.11" stroke-linejoin="round">Construction</text>
<text x="468.60" y="289.94" font-family="Liberation Sans" font-size="4.0" fill="#1a1a1a" stroke="#1a1a1a" stroke-width="0.11" stroke-linejoin="round">Construction</text>
<g><text transform="translate(125.70,289.15) scale(0.9,1)" font-family="Liberation Sans" font-size="4.3" fill="#262626" text-anchor="end" font-weight="bold">21 (0.1%)</text></g>
<g><text transform="translate(197.00,289.15) scale(0.9,1)" font-family="Liberation Sans" font-size="4.3" fill="#262626" text-anchor="end" font-weight="bold">7 (0.1%)</text></g>
<g><text transform="translate(248.00,289.15) scale(0.9,1)" font-family="Liberation Sans" font-size="4.3" fill="#262626" text-anchor="end" font-weight="bold">28 (0.1%)</text></g>
<g><text transform="translate(353.20,289.15) scale(0.9,1)" font-family="Liberation Sans" font-size="4.3" fill="#262626" text-anchor="end" font-weight="bold">28 (0.1%)</text></g>
<g><text transform="translate(463.20,289.15) scale(0.9,1)" font-family="Liberation Sans" font-size="4.3" fill="#262626" text-anchor="end" font-weight="bold">21 (0.1%)</text></g>
<text x="84.30" y="298.24" font-family="Liberation Sans" font-size="4.0" fill="#1a1a1a" text-anchor="end" stroke="#1a1a1a" stroke-width="0.11" stroke-linejoin="round">Transport, storage and post</text>
<text x="468.60" y="297.44" font-family="Liberation Sans" font-size="4.0" fill="#1a1a1a" stroke="#1a1a1a" stroke-width="0.11" stroke-linejoin="round">Transport, storage and post</text>
<g><text transform="translate(125.70,296.35) scale(0.9,1)" font-family="Liberation Sans" font-size="4.3" fill="#262626" text-anchor="end" font-weight="bold">648 (3.1%)</text></g>
<g><text transform="translate(197.00,296.35) scale(0.9,1)" font-family="Liberation Sans" font-size="4.3" fill="#262626" text-anchor="end" font-weight="bold">538 (5.4%)</text></g>
<g><text transform="translate(248.00,296.35) scale(0.9,1)" font-family="Liberation Sans" font-size="4.3" fill="#262626" text-anchor="end" font-weight="bold">1186 (3.8%)</text></g>
<g><text transform="translate(353.20,296.35) scale(0.9,1)" font-family="Liberation Sans" font-size="4.3" fill="#262626" text-anchor="end" font-weight="bold">1186 (5.6%)</text></g>
<g><text transform="translate(463.20,296.35) scale(0.9,1)" font-family="Liberation Sans" font-size="4.3" fill="#262626" text-anchor="end" font-weight="bold">648 (3.1%)</text></g>
<text x="84.30" y="306.04" font-family="Liberation Sans" font-size="4.0" fill="#1a1a1a" text-anchor="end" stroke="#1a1a1a" stroke-width="0.11" stroke-linejoin="round">Wholesale and retail &amp; accommodation and</text>
<text x="468.60" y="304.44" font-family="Liberation Sans" font-size="4.0" fill="#1a1a1a" stroke="#1a1a1a" stroke-width="0.11" stroke-linejoin="round">Wholesale and retail &amp; accommodation and</text>
<text x="84.30" y="310.44" font-family="Liberation Sans" font-size="4.0" fill="#1a1a1a" text-anchor="end" stroke="#1a1a1a" stroke-width="0.11" stroke-linejoin="round">catering</text>
<text x="468.60" y="308.84" font-family="Liberation Sans" font-size="4.0" fill="#1a1a1a" stroke="#1a1a1a" stroke-width="0.11" stroke-linejoin="round">catering</text>
<g><text transform="translate(125.70,303.55) scale(0.9,1)" font-family="Liberation Sans" font-size="4.3" fill="#262626" text-anchor="end" font-weight="bold">593 (2.8%)</text></g>
<g><text transform="translate(197.00,303.55) scale(0.9,1)" font-family="Liberation Sans" font-size="4.3" fill="#262626" text-anchor="end" font-weight="bold">818 (8.2%)</text></g>
<g><text transform="translate(248.00,303.55) scale(0.9,1)" font-family="Liberation Sans" font-size="4.3" fill="#262626" text-anchor="end" font-weight="bold">1920 (6.2%)</text></g>
<g><text transform="translate(353.20,303.55) scale(0.9,1)" font-family="Liberation Sans" font-size="4.3" fill="#262626" text-anchor="end" font-weight="bold">1409 (6.6%)</text></g>
<g><text transform="translate(463.20,303.55) scale(0.9,1)" font-family="Liberation Sans" font-size="4.3" fill="#262626" text-anchor="end" font-weight="bold">593 (2.8%)</text></g>
<text x="84.30" y="316.44" font-family="Liberation Sans" font-size="4.0" fill="#1a1a1a" text-anchor="end" stroke="#1a1a1a" stroke-width="0.11" stroke-linejoin="round">Other service sectors</text>
<text x="468.60" y="315.44" font-family="Liberation Sans" font-size="4.0" fill="#1a1a1a" stroke="#1a1a1a" stroke-width="0.11" stroke-linejoin="round">Other service sectors</text>
<g><text transform="translate(125.70,311.15) scale(0.9,1)" font-family="Liberation Sans" font-size="4.3" fill="#262626" text-anchor="end" font-weight="bold">1084 (5.1%)</text></g>
<g><text transform="translate(197.00,311.15) scale(0.9,1)" font-family="Liberation Sans" font-size="4.3" fill="#262626" text-anchor="end" font-weight="bold">1236 (12.4%)</text></g>
<g><text transform="translate(248.00,311.15) scale(0.9,1)" font-family="Liberation Sans" font-size="4.3" fill="#262626" text-anchor="end" font-weight="bold">2320 (7.4%)</text></g>
<g><text transform="translate(353.20,311.15) scale(0.9,1)" font-family="Liberation Sans" font-size="4.3" fill="#262626" text-anchor="end" font-weight="bold">2326 (10.9%)</text></g>
<g><text transform="translate(463.20,312.35) scale(0.9,1)" font-family="Liberation Sans" font-size="4.3" fill="#262626" text-anchor="end" font-weight="bold">1084 (5.1%)</text></g>
</svg>
</div></body></html>
